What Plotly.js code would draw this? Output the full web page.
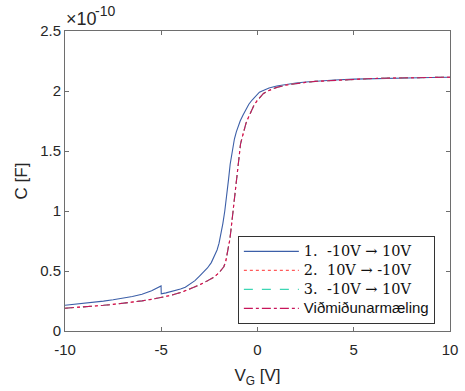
<!DOCTYPE html>
<html>
<head>
<meta charset="utf-8">
<script src="https://cdn.plot.ly/plotly-3.0.1.min.js"></script>
<style>html,body{margin:0;padding:0;background:#fff;}#chart{width:465px;height:391px;}</style>
</head>
<body>
<div id="chart"></div>
<script>
// Sweep 1: -10V -> 10V (units of 1e-10 F)
const sweep1V = [-10,-9.5,-9,-8.5,-8,-7.5,-7,-6.5,-6,-5.5,-5.01,-5,-4.75,-4.5,-4.25,-4,-3.75,-3.5,-3.25,-3,-2.8,-2.6,-2.4,-2.2,-2.1,-2.0,-1.9,-1.8,-1.7,-1.6,-1.5,-1.42,-1.35,-1.28,-1.2,-1.1,-1.0,-0.9,-0.75,-0.6,-0.45,-0.28,-0.1,0.1,0.3,0.6,1,1.5,2,2.5,3,4,5,6,7,8,9,10];
const sweep1C = [0.215,0.222,0.23,0.239,0.249,0.26,0.273,0.288,0.306,0.335,0.375,0.31,0.318,0.327,0.338,0.35,0.365,0.39,0.42,0.46,0.49,0.525,0.57,0.635,0.675,0.73,0.805,0.895,1.0,1.12,1.27,1.39,1.47,1.54,1.6,1.66,1.71,1.75,1.8,1.85,1.89,1.925,1.96,1.99,2.005,2.025,2.042,2.056,2.067,2.075,2.082,2.092,2.099,2.104,2.108,2.111,2.113,2.115];
// Sweep 2: 10V -> -10V
const sweep2V = [-10,-9.5,-9,-8.5,-8,-7.5,-7,-6.5,-6,-5.5,-5,-4.5,-4,-3.5,-3.25,-3,-2.75,-2.5,-2.25,-2.0,-1.85,-1.75,-1.65,-1.58,-1.5,-1.44,-1.38,-1.32,-1.25,-1.18,-1.1,-1.02,-0.95,-0.88,-0.8,-0.7,-0.6,-0.5,-0.35,-0.2,-0.02,0.15,0.31,0.6,1,1.5,2,2.5,3,4,5,6,7,8,9,10];
const sweep2C = [0.19,0.195,0.2,0.207,0.214,0.222,0.23,0.24,0.251,0.264,0.279,0.297,0.32,0.35,0.365,0.385,0.405,0.425,0.45,0.485,0.51,0.535,0.58,0.64,0.7,0.76,0.84,0.925,1.02,1.13,1.26,1.4,1.49,1.56,1.61,1.68,1.73,1.77,1.83,1.875,1.92,1.955,1.98,2.005,2.03,2.05,2.063,2.072,2.08,2.09,2.098,2.104,2.108,2.111,2.113,2.115];
// Sweep 3: -10V -> 10V
const sweep3V = [-10,-9.5,-9,-8.5,-8,-7.5,-7,-6.5,-6,-5.5,-5,-4.5,-4,-3.5,-3.25,-3,-2.75,-2.5,-2.25,-2.0,-1.85,-1.75,-1.65,-1.58,-1.5,-1.44,-1.38,-1.32,-1.25,-1.18,-1.1,-1.02,-0.95,-0.88,-0.8,-0.7,-0.6,-0.5,-0.35,-0.2,-0.02,0.15,0.31,0.6,1,1.5,2,2.5,3,4,5,6,7,8,9,10];
const sweep3C = [0.19,0.195,0.2,0.207,0.214,0.222,0.23,0.24,0.251,0.264,0.279,0.297,0.32,0.35,0.365,0.385,0.405,0.425,0.45,0.485,0.51,0.535,0.58,0.64,0.7,0.76,0.84,0.925,1.02,1.13,1.26,1.4,1.49,1.56,1.61,1.68,1.73,1.77,1.83,1.875,1.92,1.955,1.98,2.005,2.03,2.05,2.063,2.072,2.08,2.09,2.098,2.104,2.108,2.111,2.113,2.115];
// Reference measurement (Viðmiðunarmæling)
const refV = [-10,-9.5,-9,-8.5,-8,-7.5,-7,-6.5,-6,-5.5,-5,-4.5,-4,-3.5,-3.25,-3,-2.75,-2.5,-2.25,-2.0,-1.85,-1.75,-1.65,-1.58,-1.5,-1.44,-1.38,-1.32,-1.25,-1.18,-1.1,-1.02,-0.95,-0.88,-0.8,-0.7,-0.6,-0.5,-0.35,-0.2,-0.02,0.15,0.31,0.6,1,1.5,2,2.5,3,4,5,6,7,8,9,10];
const refC = [0.19,0.195,0.2,0.207,0.214,0.222,0.23,0.24,0.251,0.264,0.279,0.297,0.32,0.35,0.365,0.385,0.405,0.425,0.45,0.485,0.51,0.535,0.58,0.64,0.7,0.76,0.84,0.925,1.02,1.13,1.26,1.4,1.49,1.56,1.61,1.68,1.73,1.77,1.83,1.875,1.92,1.955,1.98,2.005,2.03,2.05,2.063,2.072,2.08,2.09,2.098,2.104,2.108,2.111,2.113,2.115];

const xTicks = [-10,-5,0,5,10];
const yTicks = [0,0.5,1,1.5,2,2.5];
const yTickText = ['0','0.5','1','1.5','2','2.5'];
const serif = "font-family:'DejaVu Serif','Liberation Serif',serif;font-size:14.5px";
const sans = "font-family:'Liberation Sans',Arial,sans-serif;font-size:15px";
const names = [
  '<span style="' + serif + '">1.  -10V → 10V</span>',
  '<span style="' + serif + '">2.  10V → -10V</span>',
  '<span style="' + serif + '">3.  -10V → 10V</span>',
  '<span style="' + sans + '">Viðmiðunarmæling</span>'
];

const traces = [
  {x: sweep1V, y: sweep1C, name: names[0], mode: 'lines', line: {color: '#3c5fa8', width: 1.1}},
  {x: sweep2V, y: sweep2C, name: names[1], mode: 'lines', line: {color: '#ff5a5a', width: 1.1, dash: 'dot'}},
  {x: sweep3V, y: sweep3C, name: names[2], mode: 'lines', line: {color: '#3cd6b4', width: 1.1, dash: 'dash'}},
  {x: refV, y: refC, name: names[3], mode: 'lines', line: {color: '#c8145a', width: 1.1, dash: 'dashdot'}}
];

const axisCommon = {
  showgrid: false, zeroline: false, showline: true, linecolor: '#6e6e6e', linewidth: 1,
  mirror: 'ticks', ticks: 'inside', ticklen: 4, tickwidth: 1, tickcolor: '#6e6e6e',
  tickfont: {family: 'Liberation Sans, Arial, sans-serif', size: 15, color: '#262626'}
};

const layout = {
  width: 465, height: 391,
  margin: {l: 65, r: 15, t: 31, b: 60},
  paper_bgcolor: '#fff', plot_bgcolor: '#fff',
  showlegend: true,
  xaxis: Object.assign({}, axisCommon, {
    range: [-10, 10], tickvals: xTicks, ticktext: xTicks.map(String), ticklabelstandoff: 5,
    title: {text: 'V<sub>G</sub> [V]', font: {family: 'Liberation Sans, Arial, sans-serif', size: 17, color: '#262626'}, standoff: 12}
  }),
  yaxis: Object.assign({}, axisCommon, {
    range: [0, 2.5], tickvals: yTicks, ticktext: yTickText,
    title: {text: 'C [F]', font: {family: 'Liberation Sans, Arial, sans-serif', size: 17, color: '#262626'}, standoff: 8}
  }),
  legend: {
    x: 0.449, y: 0.317, xanchor: 'left', yanchor: 'top',
    bgcolor: '#fff', bordercolor: '#333', borderwidth: 1,
    font: {family: 'Liberation Sans, Arial, sans-serif', size: 11, color: '#111'},
    tracegroupgap: 0, itemwidth: 55
  },
  annotations: [
    {text: '×10', xref: 'paper', yref: 'paper', x: 0, y: 1, xanchor: 'left', yanchor: 'bottom',
     showarrow: false, yshift: 0, xshift: -1,
     font: {family: 'Liberation Sans, Arial, sans-serif', size: 18, color: '#262626'}},
    {text: '-10', xref: 'paper', yref: 'paper', x: 0, y: 1, xanchor: 'left', yanchor: 'bottom',
     showarrow: false, yshift: 10, xshift: 28,
     font: {family: 'Liberation Sans, Arial, sans-serif', size: 14, color: '#262626'}}
  ]
};

Plotly.newPlot('chart', traces, layout, {displayModeBar: false, staticPlot: true});
</script>
</body>
</html>
